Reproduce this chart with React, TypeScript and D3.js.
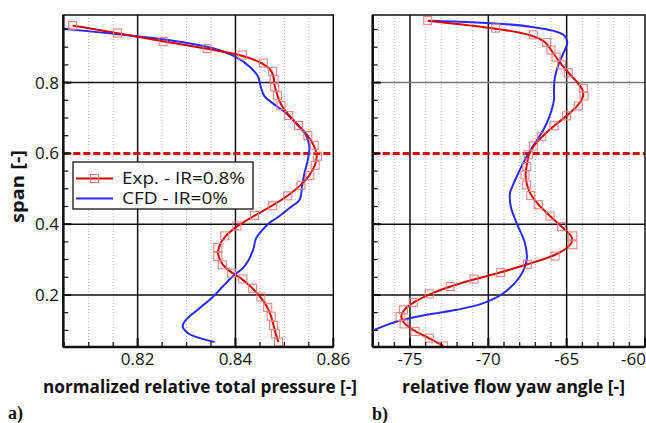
import React from "react";
import * as d3 from "d3";

// ---------- data ----------
// panel a) normalized relative total pressure
const expP_span = [0.961, 0.94, 0.916, 0.896, 0.878, 0.855, 0.832, 0.808, 0.788, 0.763, 0.735, 0.707, 0.679, 0.651, 0.623, 0.592, 0.566, 0.538, 0.51, 0.48, 0.452, 0.425, 0.395, 0.367, 0.334, 0.309, 0.285, 0.262, 0.245, 0.219, 0.194, 0.165, 0.14, 0.114, 0.09, 0.067];
const expP = [0.8067, 0.8159, 0.8252, 0.8342, 0.8414, 0.8457, 0.8476, 0.8479, 0.848, 0.8486, 0.8493, 0.8509, 0.8529, 0.8548, 0.8561, 0.8568, 0.8563, 0.8552, 0.8534, 0.8507, 0.8476, 0.8439, 0.8403, 0.8378, 0.8364, 0.8364, 0.8373, 0.8392, 0.8415, 0.8435, 0.8452, 0.8466, 0.8473, 0.8478, 0.8482, 0.8488];
const cfdP_span = [0.952, 0.937, 0.921, 0.897, 0.872, 0.845, 0.817, 0.787, 0.762, 0.742, 0.714, 0.68, 0.652, 0.619, 0.582, 0.544, 0.506, 0.469, 0.445, 0.421, 0.403, 0.379, 0.36, 0.332, 0.299, 0.276, 0.252, 0.224, 0.195, 0.163, 0.13, 0.111, 0.092, 0.078, 0.067];
const cfdP = [0.8048, 0.8157, 0.8259, 0.8354, 0.8401, 0.8429, 0.8446, 0.8452, 0.8459, 0.8476, 0.8503, 0.8527, 0.8544, 0.8551, 0.8548, 0.8541, 0.8536, 0.8531, 0.851, 0.8488, 0.8469, 0.8452, 0.8442, 0.8437, 0.8427, 0.8415, 0.8394, 0.8374, 0.8354, 0.8327, 0.8299, 0.8292, 0.8303, 0.8327, 0.8357];

// panel b) relative flow yaw angle
const expY_span = [0.975, 0.954, 0.935, 0.913, 0.892, 0.872, 0.85, 0.828, 0.784, 0.762, 0.734, 0.706, 0.678, 0.647, 0.621, 0.596, 0.563, 0.539, 0.511, 0.481, 0.455, 0.423, 0.393, 0.367, 0.342, 0.31, 0.287, 0.263, 0.245, 0.224, 0.203, 0.179, 0.158, 0.139, 0.118, 0.097, 0.078, 0.056];
const expY = [-73.87, -69.53, -67.13, -66.27, -66.0, -65.68, -65.32, -64.9, -63.94, -63.89, -64.26, -65.0, -65.81, -66.59, -67.13, -67.45, -67.55, -67.66, -67.55, -67.29, -66.81, -66.06, -65.32, -64.61, -64.61, -65.74, -67.51, -69.21, -70.91, -72.44, -73.77, -74.79, -75.42, -75.63, -75.38, -74.68, -73.77, -72.87];
const cfdY_span = [0.975, 0.958, 0.935, 0.913, 0.883, 0.85, 0.817, 0.784, 0.751, 0.709, 0.666, 0.629, 0.591, 0.544, 0.502, 0.488, 0.45, 0.403, 0.346, 0.299, 0.252, 0.205, 0.177, 0.158, 0.144, 0.125, 0.1];
const cfdY = [-73.72, -67.34, -65.21, -64.96, -65.21, -65.53, -65.74, -65.81, -65.81, -66.06, -66.49, -67.02, -67.55, -68.09, -68.51, -68.62, -68.57, -68.19, -67.66, -67.55, -67.98, -69.04, -70.32, -72.02, -73.93, -75.85, -77.34];

const spanTicks = [0.2, 0.4, 0.6, 0.8];
const spanMinor = [0.1, 0.15, 0.25, 0.3, 0.35, 0.45, 0.5, 0.55, 0.65, 0.7, 0.75, 0.85, 0.9, 0.95];
const pTicks = [0.82, 0.84, 0.86];
const yawTicks = [-75, -70, -65, -60];
const refSpan = 0.6;

const legendLabels = ["Exp. - IR=0.8%", "CFD - IR=0%"];
const RED = "#d60000";
const BLUE = "#2a2aff";
const MARK = "#f07a7a";

const FONT = "'Open Sans', 'DejaVu Sans', sans-serif";

const yScale = d3.scaleLinear().domain([0.053, 0.991]).range([347, 15]);
const xP = d3.scaleLinear().domain([0.8048, 0.86]).range([63.3, 333.3]);
const xYaw = d3.scaleLinear().domain([-77.38, -60]).range([372.7, 645]);

function Panel({ xs, xMajor, xMinor, xFmt, exp, expSpan, cfd, cfdSpan, id, showYLabels, grayTop }: any) {
  const [x0, x1] = xs.range();
  const [y1, y0] = yScale.range();
  const expLine = d3
    .line<[number, number]>()
    .x((d) => xs(d[0]))
    .y((d) => yScale(d[1]))
    .curve(d3.curveBasis);
  const cfdLine = d3
    .line<[number, number]>()
    .x((d) => xs(d[0]))
    .y((d) => yScale(d[1]))
    .curve(d3.curveCatmullRom.alpha(0.5));
  const expPts: [number, number][] = exp.map((v: number, i: number) => [v, expSpan[i]]);
  const cfdPts: [number, number][] = cfd.map((v: number, i: number) => [v, cfdSpan[i]]);
  const inner = xMajor.filter((t: number) => xs(t) > x0 + 1 && xs(t) < x1 - 1);
  return (
    <g>
      <defs>
        <clipPath id={id}>
          <rect x={x0} y={y0} width={x1 - x0} height={y1 - y0} />
        </clipPath>
      </defs>
      {xMinor.map((t: number, i: number) => (
        <line key={"mn" + i} x1={xs(t)} x2={xs(t)} y1={y0} y2={y1} stroke="#9a9a9a" strokeWidth={0.8} strokeDasharray="1,2" />
      ))}
      {inner.map((t: number, i: number) => (
        <line key={"mj" + i} x1={xs(t)} x2={xs(t)} y1={y0} y2={y1} stroke="#111" strokeWidth={1.5} />
      ))}
      {spanTicks.filter((t) => t !== refSpan).map((t, i) => (
        <line key={"h" + i} x1={x0} x2={x1} y1={yScale(t)} y2={yScale(t)} stroke={grayTop && t === 0.8 ? "#777" : "#111"} strokeWidth={1.5} />
      ))}
      <line x1={x0} x2={x1} y1={yScale(refSpan)} y2={yScale(refSpan)} stroke="#e00000" strokeWidth={3} strokeDasharray="7,3" />
      <g clipPath={`url(#${id})`}>
        <path d={cfdLine(cfdPts) || ""} fill="none" stroke={BLUE} strokeWidth={2} />
        <path d={expLine(expPts) || ""} fill="none" stroke={RED} strokeWidth={2} />
        {expPts.map((d, i) => (
          <rect key={"m" + i} x={xs(d[0]) - 4} y={yScale(d[1]) - 4} width={8} height={8} fill="none" stroke={MARK} strokeWidth={1} />
        ))}
      </g>
      {/* frame */}
      <rect x={x0} y={y0} width={x1 - x0} height={y1 - y0} fill="none" stroke="#111" strokeWidth={1.5} />
      <line x1={x0} x2={x0} y1={y0} y2={y1} stroke="#111" strokeWidth={2.5} />
      <line x1={x0} x2={x1} y1={y1} y2={y1} stroke="#111" strokeWidth={2.5} />
      {/* y ticks */}
      {spanTicks.map((t, i) => (
        <line key={"yt" + i} x1={x0} x2={x0 + 8} y1={yScale(t)} y2={yScale(t)} stroke="#111" strokeWidth={2} />
      ))}
      {spanMinor.map((t, i) => (
        <line key={"ym" + i} x1={x0} x2={x0 + 5} y1={yScale(t)} y2={yScale(t)} stroke="#111" strokeWidth={1.2} />
      ))}
      {/* x ticks */}
      {xMajor.map((t: number, i: number) => (
        <line key={"xt" + i} x1={xs(t)} x2={xs(t)} y1={y1} y2={y1 - 9} stroke="#111" strokeWidth={2} />
      ))}
      {xMinor.map((t: number, i: number) => (
        <line key={"xm" + i} x1={xs(t)} x2={xs(t)} y1={y1} y2={y1 - 5} stroke="#111" strokeWidth={1.2} />
      ))}
      {xMajor.map((t: number, i: number) => {
        const px = xs(t);
        const atEdge = px > 640;
        return (
          <text key={"xl" + i} x={atEdge ? 646 : px} y={365} textAnchor={atEdge ? "end" : "middle"} fontFamily={FONT} fontSize={17} fill="#111">
            {xFmt(t)}
          </text>
        );
      })}
      {showYLabels &&
        spanTicks.map((t, i) => (
          <text key={"yl" + i} x={59} y={yScale(t) + 6} textAnchor="end" fontFamily={FONT} fontSize={17} fill="#111">
            {d3.format(".1f")(t)}
          </text>
        ))}
    </g>
  );
}

export default function App() {
  const pMinor = d3.range(0.805, 0.8601, 0.005).filter((v) => !pTicks.some((t) => Math.abs(t - v) < 1e-6));
  const yawMinor = d3.range(-77, -59.9, 1).filter((v) => !yawTicks.includes(v));
  return (
    <svg width={646} height={423} style={{ position: "absolute", left: 0, top: 0, background: "#fff" }}>
      <rect width={646} height={423} fill="#fff" />
      <Panel
        xs={xP}
        xMajor={pTicks}
        xMinor={pMinor}
        xFmt={d3.format(".2f")}
        exp={expP}
        expSpan={expP_span}
        cfd={cfdP}
        cfdSpan={cfdP_span}
        id="clipA"
        showYLabels={true}
      />
      <Panel
        xs={xYaw}
        xMajor={yawTicks}
        xMinor={yawMinor}
        xFmt={(v: number) => String(v)}
        exp={expY}
        expSpan={expY_span}
        cfd={cfdY}
        cfdSpan={cfdY_span}
        id="clipB"
        showYLabels={false}
        grayTop={true}
      />
      {/* legend */}
      <g>
        <rect x={73} y={162} width={180} height={47} fill="#fff" stroke="#111" strokeWidth={1.3} />
        <line x1={76} x2={113} y1={178.5} y2={178.5} stroke={RED} strokeWidth={2} />
        <rect x={90.5} y={174.5} width={8} height={8} fill="none" stroke={MARK} strokeWidth={1} />
        <text x={122} y={184} fontFamily={FONT} fontSize={16} fill="#111" textLength={123} lengthAdjust="spacingAndGlyphs">
          {legendLabels[0]}
        </text>
        <line x1={76} x2={113} y1={198.5} y2={198.5} stroke={BLUE} strokeWidth={2} />
        <text x={122} y={204} fontFamily={FONT} fontSize={16} fill="#111" textLength={106} lengthAdjust="spacingAndGlyphs">
          {legendLabels[1]}
        </text>
      </g>
      {/* axis titles */}
      <text x={43} y={393} fontFamily={FONT} fontWeight="bold" fontSize={17} fill="#111" textLength={314} lengthAdjust="spacingAndGlyphs">
        normalized relative total pressure [-]
      </text>
      <text x={402} y={393} fontFamily={FONT} fontWeight="bold" fontSize={17} fill="#111" textLength={223} lengthAdjust="spacingAndGlyphs">
        relative flow yaw angle [-]
      </text>
      <text
        transform="translate(24,223) rotate(-90)"
        x={0}
        y={0}
        fontFamily={FONT}
        fontWeight="bold"
        fontSize={17}
        fill="#111"
        textLength={73}
        lengthAdjust="spacingAndGlyphs"
      >
        span [-]
      </text>
      <text x={8} y={419} fontFamily="'Liberation Serif', 'DejaVu Serif', serif" fontWeight="bold" fontSize={18} fill="#111">
        a)
      </text>
      <text x={372} y={420} fontFamily="'Liberation Serif', 'DejaVu Serif', serif" fontWeight="bold" fontSize={18} fill="#111">
        b)
      </text>
    </svg>
  );
}
